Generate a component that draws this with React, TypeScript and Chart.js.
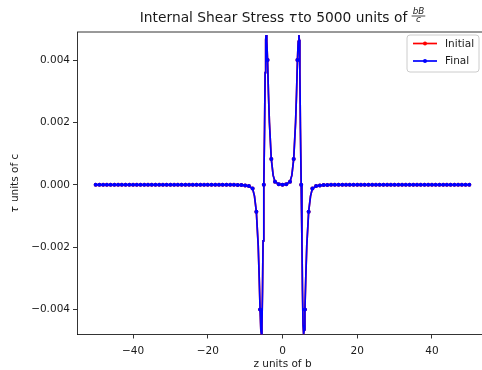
import React, { useEffect, useRef } from "react";
import { Chart, registerables } from "chart.js";

Chart.register(...registerables);

// ---- data ----
const zValues = [
  -50, -49, -48, -47, -46, -45, -44, -43, -42, -41,
  -40, -39, -38, -37, -36, -35, -34, -33, -32, -31,
  -30, -29, -28, -27, -26, -25, -24, -23, -22, -21,
  -20, -19, -18, -17, -16, -15, -14, -13, -12, -11,
  -10, -9, -8, -7.5, -7, -6.5, -6.25, -6, -5.8, -5.65,
  -5.5, -5.35, -5.2, -5, -4.8, -4.65, -4.5, -4.4, -4.2, -4,
  -3.75, -3.5, -3, -2.5, -2, -1, 0, 1, 2, 2.5,
  3, 3.5, 3.75, 4, 4.2, 4.4, 4.5, 4.65, 4.8, 5,
  5.2, 5.35, 5.5, 5.65, 5.8, 6, 6.25, 6.5, 7, 7.5,
  8, 9, 10, 11, 12, 13, 14, 15, 16, 17,
  18, 19, 20, 21, 22, 23, 24, 25, 26, 27,
  28, 29, 30, 31, 32, 33, 34, 35, 36, 37,
  38, 39, 40, 41, 42, 43, 44, 45, 46, 47,
  48, 49, 50,
];

const tauInitial = [
  0, 0, 0, 0, 0, 0, 0, 0, 0, 0,
  0, 0, 0, 0, 0, 0, 0, 0, 0, 0,
  0, 0, 0, 0, 0, 0, 0, 0, 0, 0,
  0, 0, 0, 0, 0, 0, 0, 0, -0.00001, -0.00001,
  -0.00002, -0.00004, -0.00012, -0.00036, -0.00086, -0.00195, -0.0029, -0.004, -0.00465, -0.0048,
  -0.0045, -0.0034, -0.0018, 0, 0.0018, 0.0036, 0.00465, 0.0048, 0.0046, 0.004,
  0.0029, 0.002, 0.00083, 0.0003, 0.0001, 0.00002, 0, 0.00002, 0.0001, 0.0003,
  0.00083, 0.002, 0.0029, 0.004, 0.0046, 0.0048, 0.00465, 0.0036, 0.0018, 0,
  -0.0018, -0.0034, -0.0045, -0.0048, -0.00465, -0.004, -0.0029, -0.00195, -0.00086, -0.00036,
  -0.00012, -0.00004, -0.00002, -0.00001, -0.00001, 0, 0, 0, 0, 0,
  0, 0, 0, 0, 0, 0, 0, 0, 0, 0,
  0, 0, 0, 0, 0, 0, 0, 0, 0, 0,
  0, 0, 0, 0, 0, 0, 0, 0, 0, 0,
  0, 0, 0,
];

const tauFinal = [
  0, 0, 0, 0, 0, 0, 0, 0, 0, 0,
  0, 0, 0, 0, 0, 0, 0, 0, 0, 0,
  0, 0, 0, 0, 0, 0, 0, 0, 0, 0,
  0, 0, 0, 0, 0, 0, 0, 0, -0.00001, -0.00001,
  -0.00002, -0.00004, -0.00012, -0.00036, -0.00086, -0.00195, -0.0029, -0.004, -0.00465, -0.0048,
  -0.0045, -0.0034, -0.0018, 0, 0.0018, 0.0036, 0.00465, 0.0048, 0.0046, 0.004,
  0.0029, 0.002, 0.00083, 0.0003, 0.0001, 0.00002, 0, 0.00002, 0.0001, 0.0003,
  0.00083, 0.002, 0.0029, 0.004, 0.0046, 0.0048, 0.00465, 0.0036, 0.0018, 0,
  -0.0018, -0.0034, -0.0045, -0.0048, -0.00465, -0.004, -0.0029, -0.00195, -0.00086, -0.00036,
  -0.00012, -0.00004, -0.00002, -0.00001, -0.00001, 0, 0, 0, 0, 0,
  0, 0, 0, 0, 0, 0, 0, 0, 0, 0,
  0, 0, 0, 0, 0, 0, 0, 0, 0, 0,
  0, 0, 0, 0, 0, 0, 0, 0, 0, 0,
  0, 0, 0,
];

const seriesLabels = ["Initial", "Final"];
const xTickValues = [-40, -20, 0, 20, 40];
const yTickValues = [-0.004, -0.002, 0, 0.002, 0.004];
const xRange = [-55, 55];
const yRange = [-0.0048, 0.0049];

const titlePre = "Internal Shear Stress ";
const titleSym = "\u03c4";
const titlePost = "to 5000 units of ";
const titleNum = "bB";
const titleDen = "c";
const xLabel = "z units of b";
const yLabelRest = " units of c";

// ---- styles ----
const FONT = "DejaVu Sans";
const CANVAS_W = 500;
const CANVAS_H = 370;
const RED = "#ff0000";
const BLUE = "#0000ff";
const TXT = "#1a1a1a";

const minus = (s: string) => s.replace("-", "\u2212");

const decor = {
  id: "decor",
  afterDraw(chart: any) {
    const ctx: CanvasRenderingContext2D = chart.ctx;
    const a = chart.chartArea;
    ctx.save();
    // top and right spines
    ctx.strokeStyle = "#000";
    ctx.lineWidth = 0.8;
    ctx.beginPath();
    ctx.moveTo(a.left, a.top);
    ctx.lineTo(a.right, a.top);
    ctx.lineTo(a.right, a.bottom);
    ctx.stroke();

    ctx.fillStyle = TXT;
    const cx = (a.left + a.right) / 2;

    // title
    const fs = 13.8;
    const normal = `${fs}px "${FONT}"`;
    const ital = `italic ${fs}px "${FONT}"`;
    const ffs = 8.8;
    const fracFont = `italic ${ffs}px "${FONT}"`;
    ctx.font = normal;
    const w1 = ctx.measureText(titlePre).width;
    const w3 = ctx.measureText(titlePost).width;
    ctx.font = ital;
    const w2 = ctx.measureText(titleSym).width + 1;
    ctx.font = fracFont;
    const wn = ctx.measureText(titleNum).width;
    const wd = ctx.measureText(titleDen).width;
    const wf = Math.max(wn, wd) + 2;
    const total = w1 + w2 + w3 + wf;
    let x = cx - total / 2;
    const base = 21.5;
    ctx.textBaseline = "alphabetic";
    ctx.textAlign = "left";
    ctx.font = normal;
    ctx.fillText(titlePre, x, base);
    x += w1;
    ctx.font = ital;
    ctx.fillText(titleSym, x, base);
    x += w2;
    ctx.font = normal;
    ctx.fillText(titlePost, x, base);
    x += w3;
    ctx.font = fracFont;
    ctx.fillText(titleNum, x + (wf - wn) / 2, 14.3);
    ctx.fillText(titleDen, x + (wf - wd) / 2, 21.8);
    ctx.fillRect(x, 15.6, wf, 0.8);

    // x label
    ctx.font = `10.5px "${FONT}"`;
    ctx.textAlign = "center";
    ctx.fillText(xLabel, cx, 366.5);

    // y label
    ctx.save();
    ctx.translate(15.5, (a.top + a.bottom) / 2);
    ctx.rotate(-Math.PI / 2);
    ctx.font = `italic 10.5px "${FONT}"`;
    const ws = ctx.measureText(titleSym).width + 1;
    ctx.font = `10.5px "${FONT}"`;
    const wr = ctx.measureText(yLabelRest).width;
    ctx.textAlign = "left";
    ctx.textBaseline = "middle";
    const sx = -(ws + wr) / 2;
    ctx.font = `italic 10.5px "${FONT}"`;
    ctx.fillText(titleSym, sx, 0);
    ctx.font = `10.5px "${FONT}"`;
    ctx.fillText(yLabelRest, sx + ws, 0);
    ctx.restore();

    // legend
    const bx = 407, by = 35, bw = 72, bh = 37, r = 3;
    ctx.beginPath();
    ctx.moveTo(bx + r, by);
    ctx.arcTo(bx + bw, by, bx + bw, by + bh, r);
    ctx.arcTo(bx + bw, by + bh, bx, by + bh, r);
    ctx.arcTo(bx, by + bh, bx, by, r);
    ctx.arcTo(bx, by, bx + bw, by, r);
    ctx.closePath();
    ctx.fillStyle = "rgba(255,255,255,0.8)";
    ctx.fill();
    ctx.strokeStyle = "#cccccc";
    ctx.lineWidth = 1;
    ctx.stroke();
    const cols = [RED, BLUE];
    const ys = [43.5, 61];
    seriesLabels.forEach((lab, i) => {
      ctx.strokeStyle = cols[i];
      ctx.lineWidth = 1.7;
      ctx.beginPath();
      ctx.moveTo(413, ys[i]);
      ctx.lineTo(437, ys[i]);
      ctx.stroke();
      ctx.fillStyle = cols[i];
      ctx.beginPath();
      ctx.arc(425, ys[i], 2, 0, Math.PI * 2);
      ctx.fill();
      ctx.fillStyle = TXT;
      ctx.font = `10.5px "${FONT}"`;
      ctx.textAlign = "left";
      ctx.textBaseline = "middle";
      ctx.fillText(lab, 445, ys[i] + 0.5);
    });
    ctx.restore();
  },
};

export default function App() {
  const ref = useRef<HTMLCanvasElement | null>(null);
  useEffect(() => {
    if (!ref.current) return;
    const mk = (vals: number[]) => zValues.map((z, i) => ({ x: z, y: vals[i] }));
    const radius = (c: any) => (Number.isInteger(zValues[c.dataIndex]) ? 2 : 0);
    const chart = new Chart(ref.current, {
      type: "line",
      data: {
        datasets: [
          {
            label: seriesLabels[0],
            data: mk(tauInitial),
            borderColor: RED,
            backgroundColor: RED,
            borderWidth: 1.7,
            pointRadius: radius,
            pointBorderWidth: 0,
            pointHoverRadius: 0,
            tension: 0,
            clip: 0,
            order: 2,
          },
          {
            label: seriesLabels[1],
            data: mk(tauFinal),
            borderColor: BLUE,
            backgroundColor: BLUE,
            borderWidth: 1.7,
            pointRadius: radius,
            pointBorderWidth: 0,
            pointHoverRadius: 0,
            tension: 0,
            clip: 0,
            order: 1,
          },
        ],
      },
      options: {
        responsive: false,
        animation: false,
        devicePixelRatio: 1,
        events: [],
        layout: { padding: { top: 32, right: CANVAS_W - 488, left: 0, bottom: 0 } },
        plugins: { legend: { display: false }, title: { display: false }, tooltip: { enabled: false } },
        scales: {
          x: {
            type: "linear",
            min: xRange[0],
            max: xRange[1],
            afterBuildTicks: (s: any) => {
              s.ticks = xTickValues.map((v) => ({ value: v }));
            },
            afterFit: (s: any) => {
              s.height = CANVAS_H - 334.5;
            },
            ticks: {
              color: TXT,
              font: { family: FONT, size: 10.5 },
              padding: 6,
              maxRotation: 0,
              callback: (v: any) => minus(String(v)),
            },
            grid: { display: true, drawOnChartArea: false, drawTicks: true, tickLength: 4, color: "#000", lineWidth: 0.8 },
            border: { display: true, color: "#000", width: 0.8 },
          },
          y: {
            type: "linear",
            min: yRange[0],
            max: yRange[1],
            afterBuildTicks: (s: any) => {
              s.ticks = yTickValues.map((v) => ({ value: v }));
            },
            afterFit: (s: any) => {
              s.width = 77;
            },
            ticks: {
              color: TXT,
              font: { family: FONT, size: 10.5 },
              padding: 3,
              callback: (v: any) => minus(Number(v).toFixed(3)),
            },
            grid: { display: true, drawOnChartArea: false, drawTicks: true, tickLength: 4, color: "#000", lineWidth: 0.8 },
            border: { display: true, color: "#000", width: 0.8 },
          },
        },
      },
      plugins: [decor],
    });
    return () => chart.destroy();
  }, []);
  return (
    <div
      style={{
        position: "fixed",
        left: 0,
        top: 0,
        width: 482,
        height: 370,
        overflow: "hidden",
        background: "#fff",
      }}
    >
      <canvas ref={ref} width={CANVAS_W} height={CANVAS_H} style={{ display: "block" }} />
    </div>
  );
}
